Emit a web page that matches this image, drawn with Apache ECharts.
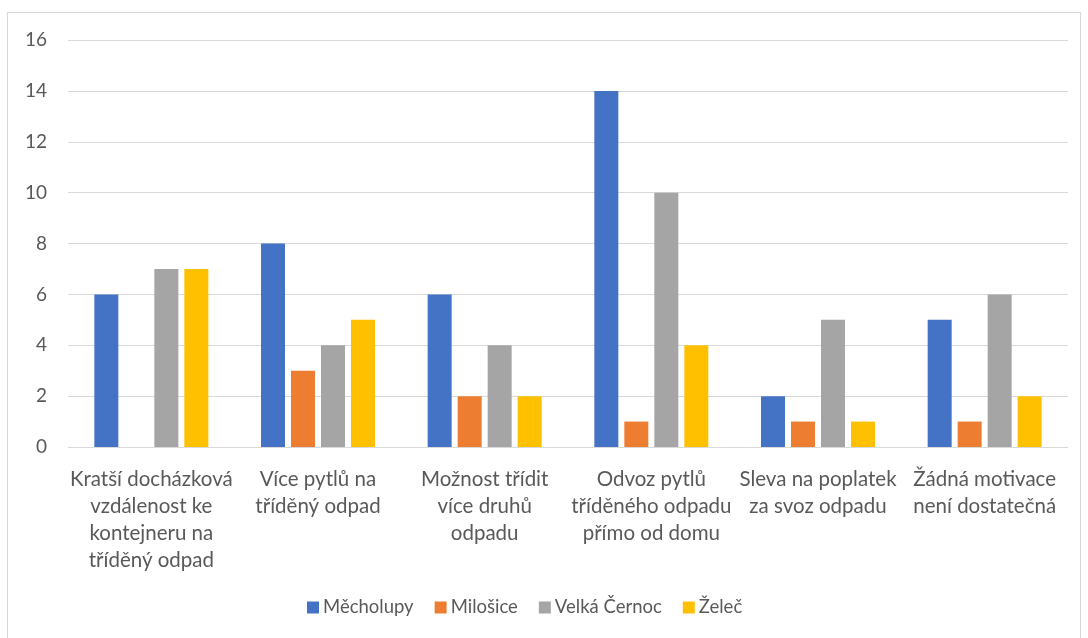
<!DOCTYPE html>
<html>
<head>
<meta charset="utf-8">
<script src="https://cdn.jsdelivr.net/npm/echarts@6/dist/echarts.min.js"></script>
<style>
  html, body { margin: 0; padding: 0; background: #fff; }
  #frame { position: absolute; left: 7px; top: 12px; width: 1074px; height: 640px; border: 1px solid #d9d9d9; box-sizing: border-box; }
  #main { position: absolute; left: 0; top: 0; width: 1088px; height: 638px; }
</style>
</head>
<body>
<div id="frame"></div>
<div id="main"></div>
<script>
// categories (line breaks as in the original)
var categories = [
    'Kratší docházková\nvzdálenost ke\nkontejneru na\ntříděný odpad',
    'Více pytlů na\ntříděný odpad',
    'Možnost třídit\nvíce druhů\nodpadu',
    'Odvoz pytlů\ntříděného odpadu\npřímo od domu',
    'Sleva na poplatek\nza svoz odpadu',
    'Žádná motivace\nnení dostatečná'
];
var seriesNames = ['Měcholupy', 'Milošice', 'Velká Černoc', 'Želeč'];
var mecholupy = [6, 8, 6, 14, 2, 5];
var milosice = [0, 3, 2, 1, 1, 1];
var velkaCernoc = [7, 4, 4, 10, 5, 6];
var zelec = [7, 5, 2, 4, 1, 2];
var colors = ['#4472C4', '#ED7D31', '#A5A5A5', '#FFC000'];

var allData = [mecholupy, milosice, velkaCernoc, zelec];
var fontFam = 'Lato, "Open Sans", sans-serif';

var myChart = echarts.init(document.getElementById('main'));

var series = allData.map(function(d, i) {
    return {
        name: seriesNames[i],
        type: 'bar',
        data: d,
        barWidth: 24,
        barGap: '25%',
        itemStyle: { color: colors[i] }
    };
});

var option = {
    animation: false,
    color: colors,
    grid: { left: 68, right: 20, top: 40, bottom: 191, containLabel: false },
    legend: {
        bottom: 16,
        left: 302,
        itemWidth: 12,
        itemHeight: 12,
        itemGap: 21,
        icon: 'rect',
        textStyle: { color: '#595959', fontSize: 18.5, fontFamily: fontFam, padding: [0, 0, 0, -1] },
        data: seriesNames
    },
    xAxis: {
        type: 'category',
        data: categories,
        axisLine: { lineStyle: { color: '#d9d9d9', width: 1 } },
        axisTick: { show: false },
        axisLabel: {
            interval: 0,
            color: '#595959',
            fontSize: 20.5,
            fontFamily: fontFam,
            lineHeight: 27,
            margin: 19
        }
    },
    yAxis: {
        type: 'value',
        min: 0,
        max: 16,
        interval: 2,
        axisLine: { show: false },
        axisTick: { show: false },
        splitLine: { lineStyle: { color: '#d9d9d9', width: 1 } },
        axisLabel: { color: '#595959', fontSize: 19, fontFamily: fontFam, margin: 21 }
    },
    series: series
};
myChart.setOption(option);
</script>
</body>
</html>
